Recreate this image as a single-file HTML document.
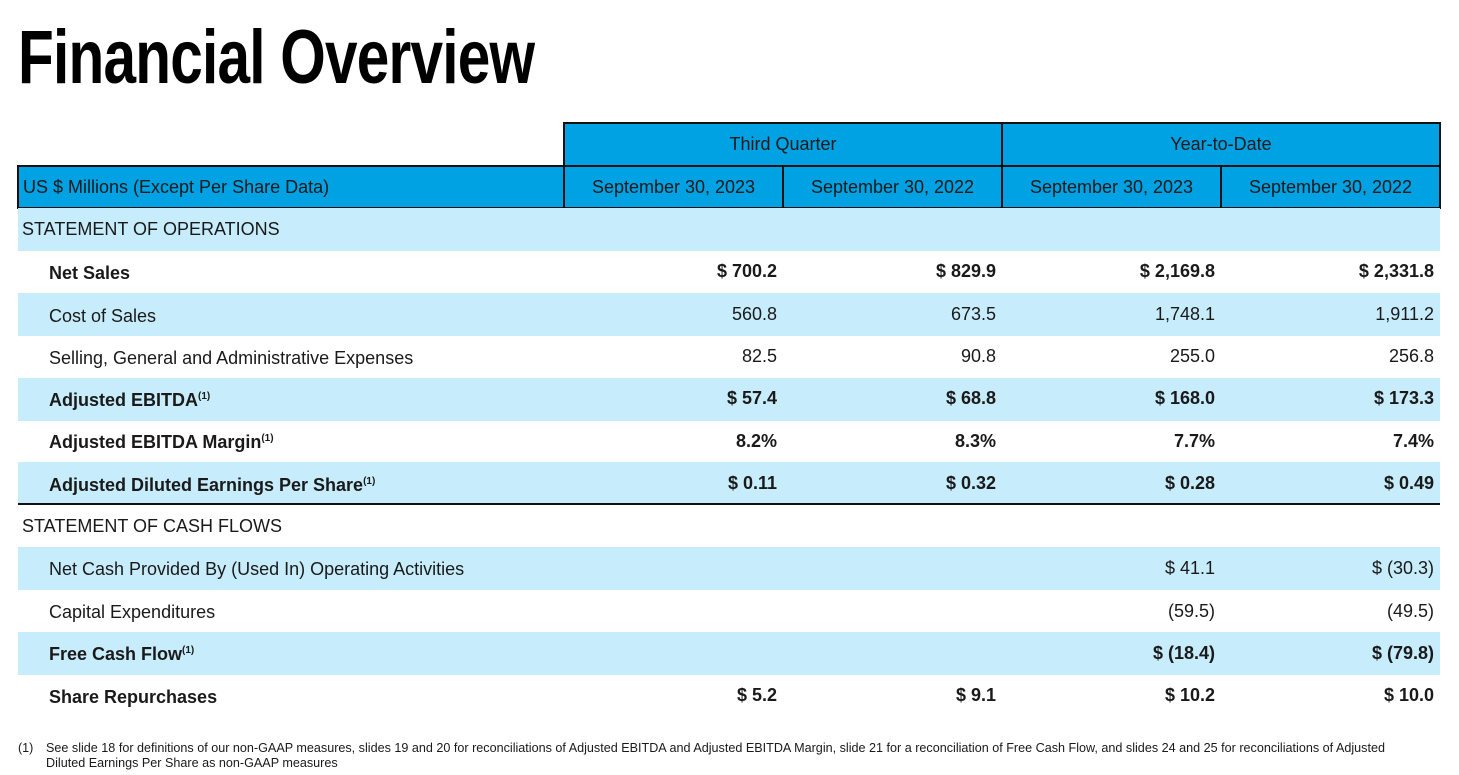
<!DOCTYPE html>
<html><head><meta charset="utf-8"><style>
body{margin:0;width:1459px;height:775px;background:#fff;position:relative;overflow:hidden;font-family:"Liberation Sans",sans-serif;color:#1a1a1a}
.t{position:absolute;left:18px;top:14px;font-size:76px;font-weight:bold;transform:scaleX(0.77);transform-origin:left top;letter-spacing:-1px;color:#000;white-space:nowrap}
.r{position:absolute;left:18px;width:1422px;height:43px}
.l{background:#c7ecfb}
.c{position:absolute;font-size:18px;white-space:nowrap;line-height:1}
.b{font-weight:bold}
.v{position:absolute;font-size:18px;text-align:right;width:200px;line-height:1;white-space:nowrap}
sup{font-size:10px;vertical-align:7px}
.h{position:absolute;background:#00a2e3;border:2px solid #111;box-sizing:border-box;font-size:18px;display:flex;align-items:center;justify-content:center}
</style></head><body>
<div class="t">Financial Overview</div>

<div class="h" style="left:563px;top:122px;width:440px;height:45px">Third Quarter</div>
<div class="h" style="left:1001px;top:122px;width:440px;height:45px">Year-to-Date</div>
<div class="h" style="left:17px;top:165px;width:548px;height:44px;justify-content:flex-start;padding-left:4px">US $ Millions (Except Per Share Data)</div>
<div class="h" style="left:563px;top:165px;width:221px;height:44px">September 30, 2023</div>
<div class="h" style="left:782px;top:165px;width:221px;height:44px">September 30, 2022</div>
<div class="h" style="left:1001px;top:165px;width:221px;height:44px">September 30, 2023</div>
<div class="h" style="left:1220px;top:165px;width:221px;height:44px">September 30, 2022</div>

<div class="r l" style="top:208px"></div>
<div class="r l" style="top:293px"></div>
<div class="r l" style="top:378px"></div>
<div class="r l" style="top:462px"></div>
<div style="position:absolute;left:18px;top:503px;width:1422px;height:2px;background:#111"></div>
<div class="r l" style="top:547px"></div>
<div class="r l" style="top:632px"></div>

<div class="c" style="left:22px;top:220px">STATEMENT OF OPERATIONS</div>
<div class="c b" style="left:49px;top:264px">Net Sales</div>
<div class="c" style="left:49px;top:307px">Cost of Sales</div>
<div class="c" style="left:49px;top:349px">Selling, General and Administrative Expenses</div>
<div class="c b" style="left:49px;top:391px">Adjusted EBITDA<sup>(1)</sup></div>
<div class="c b" style="left:49px;top:433px">Adjusted EBITDA Margin<sup>(1)</sup></div>
<div class="c b" style="left:49px;top:476px">Adjusted Diluted Earnings Per Share<sup>(1)</sup></div>
<div class="c" style="left:22px;top:517px">STATEMENT OF CASH FLOWS</div>
<div class="c" style="left:49px;top:560px">Net Cash Provided By (Used In) Operating Activities</div>
<div class="c" style="left:49px;top:603px">Capital Expenditures</div>
<div class="c b" style="left:49px;top:645px">Free Cash Flow<sup>(1)</sup></div>
<div class="c b" style="left:49px;top:688px">Share Repurchases</div>

<div class="v b" style="left:577px;top:262px">$ 700.2</div>
<div class="v b" style="left:796px;top:262px">$ 829.9</div>
<div class="v b" style="left:1015px;top:262px">$ 2,169.8</div>
<div class="v b" style="left:1234px;top:262px">$ 2,331.8</div>

<div class="v" style="left:577px;top:305px">560.8</div>
<div class="v" style="left:796px;top:305px">673.5</div>
<div class="v" style="left:1015px;top:305px">1,748.1</div>
<div class="v" style="left:1234px;top:305px">1,911.2</div>

<div class="v" style="left:577px;top:347px">82.5</div>
<div class="v" style="left:796px;top:347px">90.8</div>
<div class="v" style="left:1015px;top:347px">255.0</div>
<div class="v" style="left:1234px;top:347px">256.8</div>

<div class="v b" style="left:577px;top:389px">$ 57.4</div>
<div class="v b" style="left:796px;top:389px">$ 68.8</div>
<div class="v b" style="left:1015px;top:389px">$ 168.0</div>
<div class="v b" style="left:1234px;top:389px">$ 173.3</div>

<div class="v b" style="left:577px;top:432px">8.2%</div>
<div class="v b" style="left:796px;top:432px">8.3%</div>
<div class="v b" style="left:1015px;top:432px">7.7%</div>
<div class="v b" style="left:1234px;top:432px">7.4%</div>

<div class="v b" style="left:577px;top:474px">$ 0.11</div>
<div class="v b" style="left:796px;top:474px">$ 0.32</div>
<div class="v b" style="left:1015px;top:474px">$ 0.28</div>
<div class="v b" style="left:1234px;top:474px">$ 0.49</div>

<div class="v" style="left:1015px;top:559px">$ 41.1</div>
<div class="v" style="left:1234px;top:559px">$ (30.3)</div>

<div class="v" style="left:1015px;top:602px">(59.5)</div>
<div class="v" style="left:1234px;top:602px">(49.5)</div>

<div class="v b" style="left:1015px;top:644px">$ (18.4)</div>
<div class="v b" style="left:1234px;top:644px">$ (79.8)</div>

<div class="v b" style="left:577px;top:686px">$ 5.2</div>
<div class="v b" style="left:796px;top:686px">$ 9.1</div>
<div class="v b" style="left:1015px;top:686px">$ 10.2</div>
<div class="v b" style="left:1234px;top:686px">$ 10.0</div>

<div class="c" style="left:18px;top:741px;font-size:12.5px;line-height:15px">(1)</div>
<div class="c" style="left:46px;top:741px;font-size:12.6px;line-height:15px;white-space:normal;width:1400px">See slide 18 for definitions of our non-GAAP measures, slides 19 and 20 for reconciliations of Adjusted EBITDA and Adjusted EBITDA Margin, slide 21 for a reconciliation of Free Cash Flow, and slides 24 and 25 for reconciliations of Adjusted<br>Diluted Earnings Per Share as non-GAAP measures</div>
</body></html>
